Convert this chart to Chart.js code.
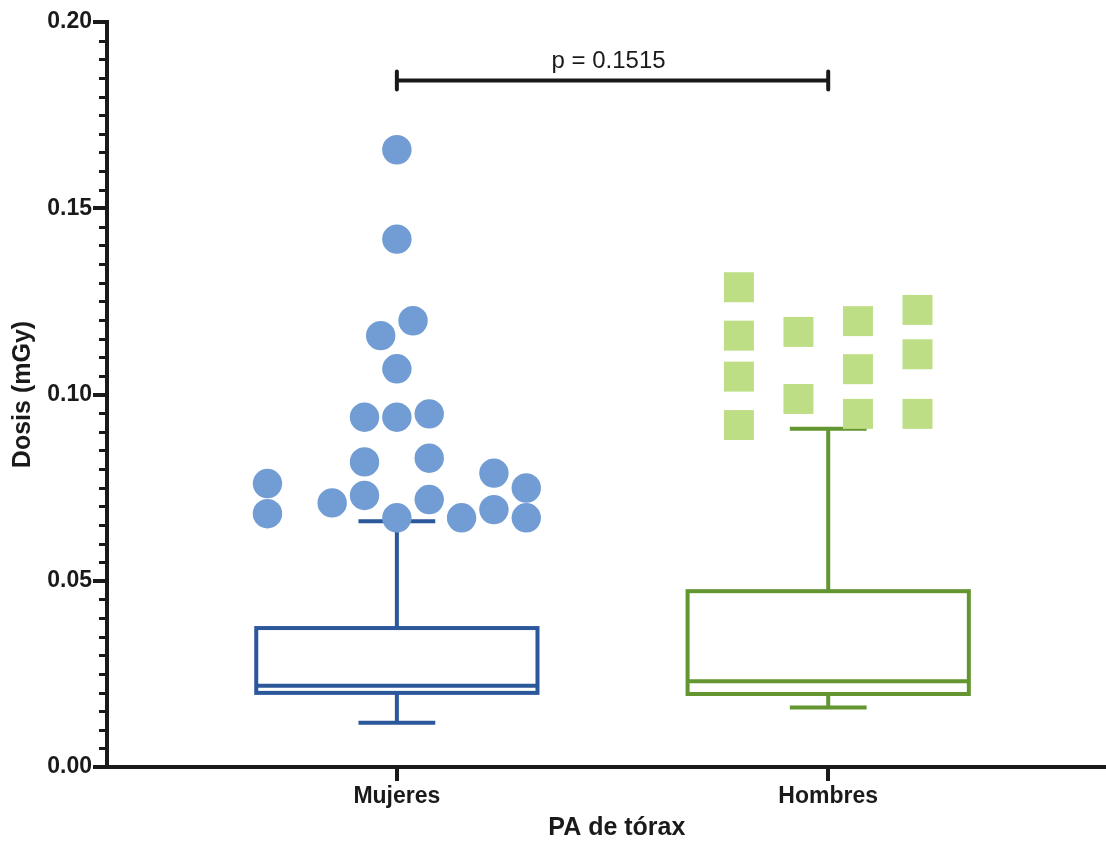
<!DOCTYPE html>
<html>
<head>
<meta charset="utf-8">
<script src="https://cdn.jsdelivr.net/npm/chart.js@4.4.1/dist/chart.umd.min.js"></script>
<style>
  html, body { margin: 0; padding: 0; background: #ffffff; }
  #wrap { width: 1106px; height: 842px; position: relative; }
</style>
</head>
<body>
<div id="wrap"><canvas id="c" width="1106" height="842"></canvas></div>
<script>
// ---------------- DATA ----------------
const categories = ['Mujeres', 'Hombres'];
const yTickValues = [0.00, 0.05, 0.10, 0.15, 0.20];
const xAxisTitle = 'PA de tórax';
const yAxisTitle = 'Dosis (mGy)';

// Individual points (Mujeres, circles)
const mujeresValues = [0.1657, 0.1417, 0.1198, 0.1158, 0.1069, 0.0939, 0.0939, 0.0948,
                       0.0819, 0.0829, 0.0729, 0.0718, 0.0709, 0.0669, 0.0669, 0.0789,
                       0.0691, 0.0749, 0.0669, 0.0761, 0.0680];
// column index of each point in the scatter spread
const mujeresColumn = [0, 0, 0.5, -0.5, 0, -1, 0, 1,
                       -1, 1, -1, 1, -2, 0, 2, 3,
                       3, 4, 4, -4, -4];

// Individual points (Hombres, squares)
const hombresValues = [0.1288, 0.1158, 0.1048, 0.0918,
                       0.1168, 0.0988,
                       0.1197, 0.1068, 0.0948,
                       0.1227, 0.1108, 0.0948];
const hombresColumn = [-1.5, -1.5, -1.5, -1.5,
                       -0.5, -0.5,
                       0.5, 0.5, 0.5,
                       1.5, 1.5, 1.5];

// Box-and-whisker statistics, one entry per category
const whiskerLow  = [0.0119, 0.0160];
const boxQ1       = [0.0199, 0.0196];
const boxMedian   = [0.0218, 0.0230];
const boxQ3       = [0.0373, 0.0472];
const whiskerHigh = [0.0660, 0.0908];

// Significance annotation
const pLabel = 'p = 0.1515';
const pBarValue = 0.1843;

// ---------------- STYLE ----------------
const FONT = "'Liberation Sans', Arial, Helvetica, sans-serif";
const AXIS_COLOR = '#1a1a1a';
const boxColors = ['#2b579b', '#639531'];
const pointColors = ['#729cd4', '#bede86'];
const COL_STEP = [0.075, 0.138];
const BOX_HALF = 0.326;
const CAP_HALF = 0.089;

const mujeresPts = mujeresValues.map((v, i) => ({ x: 0 + mujeresColumn[i] * COL_STEP[0], y: v }));
const hombresPts = hombresValues.map((v, i) => ({ x: 1 + hombresColumn[i] * COL_STEP[1], y: v }));

const boxPlugin = {
  id: 'boxPlugin',
  beforeDatasetsDraw(chart) {
    const { ctx, scales: { x, y } } = chart;
    ctx.save();
    for (let i = 0; i < categories.length; i++) {
      const cx = x.getPixelForValue(i);
      const l = x.getPixelForValue(i - BOX_HALF), r = x.getPixelForValue(i + BOX_HALF);
      const cl = x.getPixelForValue(i - CAP_HALF), cr = x.getPixelForValue(i + CAP_HALF);
      const yq1 = y.getPixelForValue(boxQ1[i]);
      const yq3 = y.getPixelForValue(boxQ3[i]);
      const ymed = y.getPixelForValue(boxMedian[i]);
      const ylo = y.getPixelForValue(whiskerLow[i]);
      const yhi = y.getPixelForValue(whiskerHigh[i]);
      ctx.strokeStyle = boxColors[i];
      ctx.lineWidth = 4;
      ctx.lineCap = 'butt';
      ctx.strokeRect(l, yq3, r - l, yq1 - yq3);
      ctx.beginPath();
      ctx.moveTo(l, ymed); ctx.lineTo(r, ymed);
      ctx.moveTo(cx, yq3); ctx.lineTo(cx, yhi);
      ctx.moveTo(cx, yq1); ctx.lineTo(cx, ylo);
      ctx.moveTo(cl, yhi); ctx.lineTo(cr, yhi);
      ctx.moveTo(cl, ylo); ctx.lineTo(cr, ylo);
      ctx.stroke();
    }
    ctx.restore();
  },
  afterDraw(chart) {
    const { ctx, scales: { x, y } } = chart;
    ctx.save();
    // minor ticks on y axis
    ctx.strokeStyle = AXIS_COLOR;
    ctx.lineWidth = 3;
    ctx.beginPath();
    for (let k = 1; k < 40; k++) {
      if (k % 10 === 0) continue;
      const py = Math.round(y.getPixelForValue(k * 0.005)) + 0.5;
      ctx.moveTo(x.left - 8, py); ctx.lineTo(x.left, py);
    }
    ctx.stroke();
    // significance bar
    const x0 = x.getPixelForValue(0), x1 = x.getPixelForValue(1);
    const py = y.getPixelForValue(pBarValue);
    ctx.lineWidth = 4;
    ctx.lineCap = 'round';
    ctx.beginPath();
    ctx.moveTo(x0, py); ctx.lineTo(x1, py);
    ctx.moveTo(x0, py - 9); ctx.lineTo(x0, py + 9);
    ctx.moveTo(x1, py - 9); ctx.lineTo(x1, py + 9);
    ctx.stroke();
    ctx.fillStyle = AXIS_COLOR;
    ctx.font = "24px " + FONT;
    ctx.textAlign = 'center';
    ctx.textBaseline = 'alphabetic';
    ctx.fillText(pLabel, (x0 + x1) / 2 - 4, py - 12);
    // x axis title
    ctx.font = "bold 25px " + FONT;
    ctx.textBaseline = 'middle';
    ctx.fillText(xAxisTitle, x.getPixelForValue(0.51), 828);
    ctx.restore();
  }
};

new Chart(document.getElementById('c'), {
  type: 'scatter',
  data: {
    datasets: [
      { label: categories[0], data: mujeresPts, pointStyle: 'circle', pointRadius: 14.7, pointHoverRadius: 14.7,
        backgroundColor: pointColors[0], borderWidth: 0, clip: false },
      { label: categories[1], data: hombresPts, pointStyle: 'rect', pointRadius: 21.2, pointHoverRadius: 21.2,
        backgroundColor: pointColors[1], borderWidth: 0, clip: false }
    ]
  },
  options: {
    responsive: false,
    animation: false,
    events: [],
    layout: { autoPadding: false, padding: { top: 22, right: 0, bottom: 0, left: 0 } },
    plugins: { legend: { display: false }, tooltip: { enabled: false } },
    scales: {
      x: {
        type: 'linear',
        min: -0.672, max: 1.644,
        afterBuildTicks(scale) { scale.ticks = categories.map((c, i) => ({ value: i })); },
        afterFit(scale) { scale.height = 75; scale.paddingRight = 0; scale.paddingLeft = 0; },
        ticks: {
          callback: (v) => categories[v] ?? '',
          color: AXIS_COLOR, font: { family: FONT, size: 23, weight: 'bold' }, padding: 2,
          maxRotation: 0, autoSkip: false
        },
        grid: { display: true, drawOnChartArea: false, tickLength: 14, lineWidth: 4, color: AXIS_COLOR },
        border: { display: true, width: 4, color: AXIS_COLOR },
        title: { display: false, text: xAxisTitle }
      },
      y: {
        type: 'linear',
        min: 0, max: 0.2,
        afterBuildTicks(scale) { scale.ticks = yTickValues.map(v => ({ value: v })); },
        afterFit(scale) { scale.width = 107; },
        ticks: {
          callback: (v) => Number(v).toFixed(2),
          color: AXIS_COLOR, font: { family: FONT, size: 23, weight: 'bold' }, padding: 1
        },
        grid: { display: true, drawOnChartArea: false, tickLength: 14, lineWidth: 4, color: AXIS_COLOR },
        border: { display: true, width: 4, color: AXIS_COLOR },
        title: { display: true, text: yAxisTitle, color: AXIS_COLOR,
                 font: { family: FONT, size: 25, weight: 'bold' }, padding: { top: 8, bottom: 0 } }
      }
    }
  },
  plugins: [boxPlugin]
});
</script>
</body>
</html>
